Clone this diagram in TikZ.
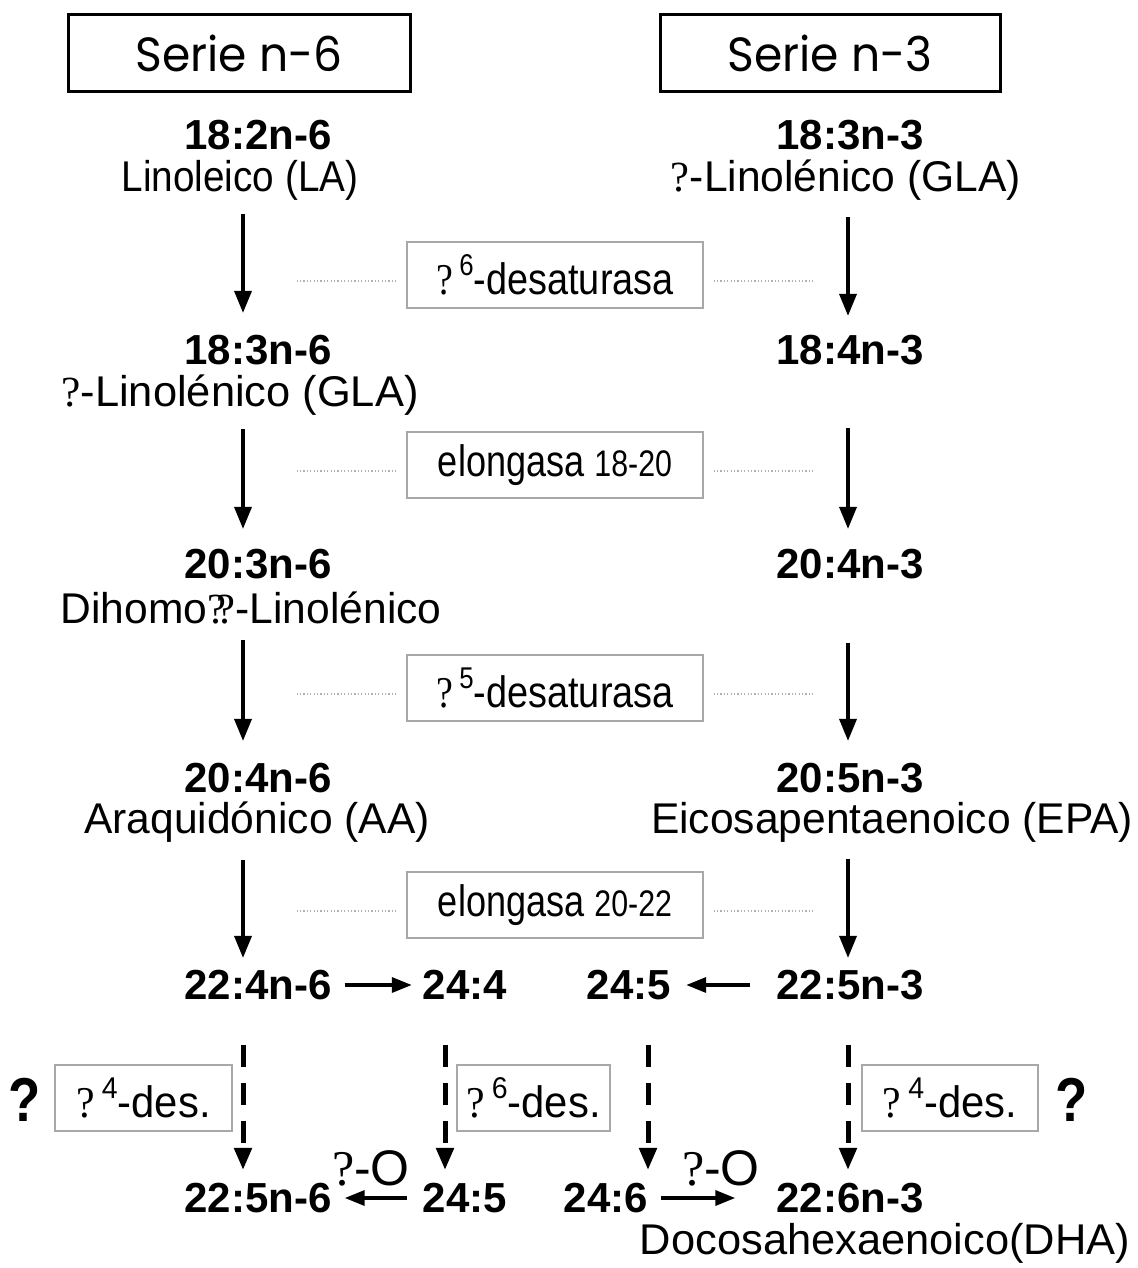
\documentclass[tikz,border=0pt]{standalone}
\usepackage{fontspec}
\setmainfont{Liberation Sans}
\newfontfamily\serfont{Liberation Serif}
\newfontfamily\titfont{Poppins}
\usetikzlibrary{arrows.meta}
\definecolor{boxgray}{HTML}{A8A8A8}
\definecolor{dotgray}{HTML}{B0B0B0}
\newcommand{\qq}{{\serfont ?}}
\newcommand{\supn}[1]{\,\raisebox{0.42em}{\fontsize{30}{32}\selectfont #1}}
\newcommand{\hsc}[2]{\scalebox{#1}[1]{#2}}
\begin{document}
\begin{tikzpicture}[x=1pt,y=-1pt,
  bl/.style={font=\fontsize{42}{46}\selectfont\bfseries, inner sep=0pt},
  nm/.style={font=\fontsize{43}{47}\selectfont, inner sep=0pt},
  titlebox/.style={draw, line width=3pt, font=\fontsize{48}{52}\selectfont\titfont, inner sep=0pt},
  enz/.style={draw=boxgray, line width=1.3pt, minimum height=66pt, font=\fontsize{44}{48}\selectfont, inner sep=0pt},
  arr/.style={line width=3.5pt, -{Triangle[length=22pt,width=17pt]}},
  darr/.style={line width=5pt, dash pattern=on 22pt off 16pt, -{Triangle[length=22pt,width=17pt]}},
  harr/.style={line width=3.5pt, -{Triangle[length=20pt,width=15pt]}},
  dotl/.style={draw=dotgray, line width=1.2pt, dash pattern=on 1.2pt off 2.2pt},
  bigq/.style={font=\fontsize{62}{66}\selectfont\bfseries, inner sep=0pt},
  oxl/.style={font=\fontsize{50}{54}\selectfont, inner sep=0pt}
]
\useasboundingbox[fill=white] (0,0) rectangle (1137,1268);

\coordinate (xl) at (243,0);
\coordinate (xr) at (848,0);
\coordinate (xc) at (445,0);
\coordinate (xd) at (648,0);

% titles
\node[titlebox, minimum width=342pt, minimum height=77pt] (t6) at (239,53) {\hsc{0.95}{Serie n-6}};
\node[titlebox, minimum width=340pt, minimum height=77pt] (t3) at (830,53) {\hsc{0.95}{Serie n-3}};

% row 1
\node[bl] (a1) at (258,135) {18:2n-6};
\node[nm] (a1n) at (240,180) {\hsc{0.90}{Linoleico (LA)}};
\node[bl] (b1) at (850,135) {18:3n-3};
\node[nm] (b1n) at (846,180) {\hsc{0.99}{\qq-Linolénico (GLA)}};
% row 2
\node[bl] (a2) at (258,350) {18:3n-6};
\node[nm] (a2n) at (240,395) {\hsc{1.01}{\qq-Linolénico (GLA)}};
\node[bl] (b2) at (850,350) {18:4n-3};
% row 3
\node[bl] (a3) at (258,564) {20:3n-6};
\node[nm] (a3n) at (251,608) {\hsc{0.99}{Dihomo\qq\kern-0.22em\qq-Linolénico}};
\node[bl] (b3) at (850,564) {20:4n-3};
% row 4
\node[bl] (a4) at (258,778) {20:4n-6};
\node[nm] (a4n) at (257,822) {\hsc{0.99}{Araquidónico (AA)}};
\node[bl] (b4) at (850,778) {20:5n-3};
\node[nm] (b4n) at (892,822) {\hsc{0.99}{Eicosapentaenoico (EPA)}};
% row 5
\node[bl] (a5) at (258,985) {22:4n-6};
\node[bl] (c5) at (465,985) {24:4};
\node[bl] (d5) at (629,985) {24:5};
\node[bl] (b5) at (850,985) {22:5n-3};
% row 6
\node[bl] (a6) at (258,1198) {22:5n-6};
\node[bl] (c6) at (465,1198) {24:5};
\node[bl] (d6) at (606,1198) {24:6};
\node[bl] (b6) at (850,1198) {22:6n-3};
\node[nm] (b6n) at (885,1243) {\hsc{1.01}{Docosahexaenoico(DHA)}};

% enzyme boxes
\node[enz, minimum width=296pt] (e1) at (555,275) {\hsc{0.86}{\qq\supn{6}-desaturasa}};
\node[enz, minimum width=296pt] (e2) at (555,465) {\hsc{0.82}{elongasa {\fontsize{37}{40}\selectfont 18-20}}};
\node[enz, minimum width=296pt] (e3) at (555,688) {\hsc{0.86}{\qq\supn{5}-desaturasa}};
\node[enz, minimum width=296pt] (e4) at (555,905) {\hsc{0.82}{elongasa {\fontsize{37}{40}\selectfont 20-22}}};

\node[enz, minimum width=177pt] (f1) at (143.5,1098) {\hsc{0.95}{\qq\supn{4}-des.}};
\node[enz, minimum width=153pt] (f2) at (533.5,1098) {\hsc{0.95}{\qq\supn{6}-des.}};
\node[enz, minimum width=176pt] (f3) at (950,1098) {\hsc{0.95}{\qq\supn{4}-des.}};

\node[bigq] (q1) at (25,1100) {\hsc{0.85}{?}};
\node[bigq] (q2) at (1072,1100) {\hsc{0.85}{?}};

\node[oxl] (o1) at (371,1168) {\qq-O};
\node[oxl] (o2) at (721,1168) {\qq-O};

% dotted leaders
\foreach \e in {e1,e2,e3,e4}{
  \draw[dotl] ([shift={(-10,6)}]\e.west) -- ([shift={(-110,6)}]\e.west);
  \draw[dotl] ([shift={(10,6)}]\e.east) -- ([shift={(109,6)}]\e.east);
}

% vertical arrows left
\draw[arr, shorten <=14pt, shorten >=22pt] (a1n.south -| xl) -- (a2.north -| xl);
\draw[arr, shorten <=14pt, shorten >=20pt] (a2n.south -| xl) -- (a3.north -| xl);
\draw[arr, shorten <=16pt, shorten >=22pt] (a3n.south -| xl) -- (a4.north -| xl);
\draw[arr, shorten <=17pt, shorten >=12pt] (a4n.south -| xl) -- (a5.north -| xl);
% vertical arrows right
\draw[arr, shorten <=17pt, shorten >=19pt] (b1n.south -| xr) -- (b2.north -| xr);
\draw[arr, shorten <=63pt, shorten >=20pt] (b2.south -| xr) -- (b3.north -| xr);
\draw[arr, shorten <=64pt, shorten >=22pt] (b3.south -| xr) -- (b4.north -| xr);
\draw[arr, shorten <=17pt, shorten >=12pt] (b4n.south -| xr) -- (b5.north -| xr);

% dashed arrows
\draw[darr, shorten <=45pt, shorten >=13pt] (a5.south -| xl) -- (a6.north -| xl);
\draw[darr, shorten <=45pt, shorten >=13pt] (c5.south -| xc) -- (c6.north -| xc);
\draw[darr, shorten <=45pt, shorten >=13pt] (d5.south -| xd) -- (d6.north -| xd);
\draw[darr, shorten <=45pt, shorten >=13pt] (b5.south -| xr) -- (b6.north -| xr);

% horizontal arrows
\draw[harr, shorten <=13pt, shorten >=11pt] (a5.east) -- (c5.west);
\draw[harr, shorten <=26pt, shorten >=15pt] (b5.west) -- (d5.east);
\draw[harr, shorten <=16pt, shorten >=13pt] (c6.west) -- (a6.east);
\draw[harr, shorten <=13pt, shorten >=41pt] (d6.east) -- (b6.west);
\end{tikzpicture}
\end{document}
